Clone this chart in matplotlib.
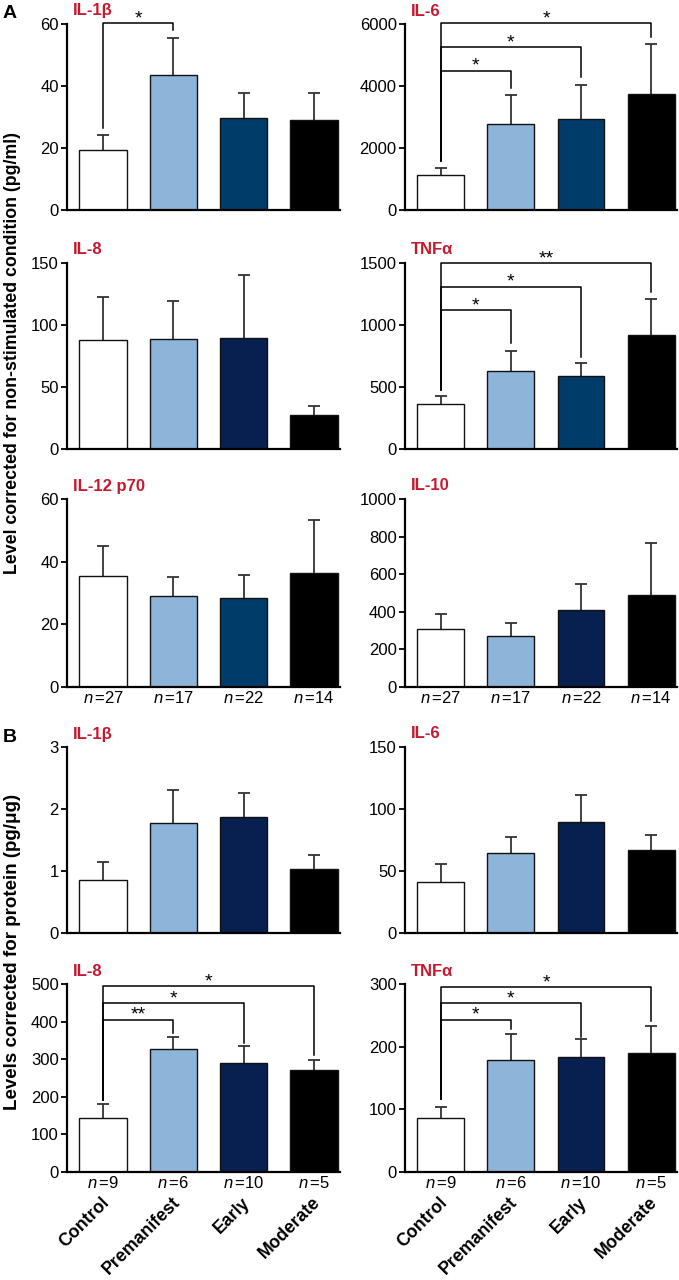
import matplotlib
matplotlib.use("Agg")
import matplotlib.pyplot as plt
import numpy as np

plt.rcParams['font.family'] = ['Liberation Sans', 'DejaVu Sans']
plt.rcParams['mathtext.fontset'] = 'custom'
plt.rcParams['mathtext.rm'] = 'Liberation Sans'
plt.rcParams['mathtext.it'] = 'Liberation Sans:italic'

# ---------------- data ----------------
groups = ['Control', 'Premanifest', 'Early', 'Moderate']
n_a = [27, 17, 22, 14]
n_b = [9, 6, 10, 5]

a_il1b_mean = [19.4, 43.5, 29.6, 29.0]
a_il1b_sem = [4.8, 12.1, 8.0, 8.6]
a_il6_mean = [1120, 2780, 2930, 3750]
a_il6_sem = [240, 920, 1100, 1600]
a_il8_mean = [88.3, 89.1, 89.9, 27.6]
a_il8_sem = [34.1, 30.0, 50.7, 7.0]
a_tnf_mean = [360, 633, 590, 921]
a_tnf_sem = [67, 154, 104, 288]
a_il12_mean = [35.4, 29.0, 28.4, 36.3]
a_il12_sem = [9.7, 6.2, 7.2, 16.9]
a_il10_mean = [309, 273, 412, 489]
a_il10_sem = [80, 70, 138, 279]

b_il1b_mean = [0.86, 1.78, 1.87, 1.04]
b_il1b_sem = [0.28, 0.52, 0.39, 0.22]
b_il6_mean = [41.3, 64.5, 89.2, 67.2]
b_il6_sem = [14.7, 12.9, 21.7, 12.1]
b_il8_mean = [144, 326, 290, 272]
b_il8_sem = [36, 34, 44, 26]
b_tnf_mean = [85.4, 178.8, 183.1, 189.5]
b_tnf_sem = [18.7, 41.7, 28.9, 42.7]

y_ticks = {
    'a_il1b': [0, 20, 40, 60], 'a_il6': [0, 2000, 4000, 6000],
    'a_il8': [0, 50, 100, 150], 'a_tnf': [0, 500, 1000, 1500],
    'a_il12': [0, 20, 40, 60], 'a_il10': [0, 200, 400, 600, 800, 1000],
    'b_il1b': [0, 1, 2, 3], 'b_il6': [0, 50, 100, 150],
    'b_il8': [0, 100, 200, 300, 400, 500], 'b_tnf': [0, 100, 200, 300],
}

# significance brackets: control-start height, then (target, top, end, label)
sig = {
    'a_il1b': (26.4, [(1, 60.2, 58.0, '*')]),
    'a_il6': (1570, [(1, 4485, 3920, '*'), (2, 5254, 4290, '*'), (3, 6022, 5574, '*')]),
    'a_tnf': (478, [(1, 1118, 851, '*'), (2, 1308, 739, '*'), (3, 1500, 1268, '**')]),
    'b_il8': (191, [(1, 405, 369, '**'), (2, 449, 344, '*'), (3, 494, 311, '*')]),
    'b_tnf': (115.8, [(1, 242.9, 228, '*'), (2, 269.6, 216, '*'), (3, 295.2, 240.2, '*')]),
}

# ---------------- styles ----------------
RED = '#c41a30'
WHITE = '#ffffff'
LIGHT = '#8db5d9'
DARK = '#003c69'
NAVY = '#082050'
BLACK = '#000000'

W, H = 679, 1280
fig = plt.figure(figsize=(W / 100, H / 100), dpi=100)

col_x = [(67, 340), (405, 677)]
row_y = [(24, 210), (263, 449), (499, 687), (747, 933), (984, 1172)]


def make_ax(row, col):
    x0, x1 = col_x[col]
    y0, y1 = row_y[row]
    return fig.add_axes([x0 / W, 1 - y1 / H, (x1 - x0) / W, (y1 - y0) / H])


panels = [
    (0, 0, 'IL-1\u03b2', 'a_il1b', a_il1b_mean, a_il1b_sem, DARK),
    (0, 1, 'IL-6', 'a_il6', a_il6_mean, a_il6_sem, DARK),
    (1, 0, 'IL-8', 'a_il8', a_il8_mean, a_il8_sem, NAVY),
    (1, 1, 'TNF\u03b1', 'a_tnf', a_tnf_mean, a_tnf_sem, DARK),
    (2, 0, 'IL-12 p70', 'a_il12', a_il12_mean, a_il12_sem, DARK),
    (2, 1, 'IL-10', 'a_il10', a_il10_mean, a_il10_sem, NAVY),
    (3, 0, 'IL-1\u03b2', 'b_il1b', b_il1b_mean, b_il1b_sem, NAVY),
    (3, 1, 'IL-6', 'b_il6', b_il6_mean, b_il6_sem, NAVY),
    (4, 0, 'IL-8', 'b_il8', b_il8_mean, b_il8_sem, NAVY),
    (4, 1, 'TNF\u03b1', 'b_tnf', b_tnf_mean, b_tnf_sem, NAVY),
]

x = np.arange(len(groups))
for row, col, title, key, mean, sem, early_col in panels:
    ax = make_ax(row, col)
    colors = [WHITE, LIGHT, early_col, BLACK]
    eb = ax.errorbar(x, mean, yerr=[np.zeros(len(sem)), sem], fmt='none',
                     ecolor='#333333', elinewidth=1.3, capsize=4.5,
                     capthick=1.3, zorder=1)
    eb[1][0].set_visible(False)  # hide lower caps
    ax.bar(x, mean, width=0.67, color=colors, edgecolor='#111111',
           linewidth=1.0, zorder=2)
    ticks = y_ticks[key]
    ax.set_ylim(0, ticks[-1])
    ax.set_yticks(ticks)
    ax.set_xlim(-0.512, 3.37)
    ax.set_xticks([])
    for s in ['top', 'right']:
        ax.spines[s].set_visible(False)
    for s in ['left', 'bottom']:
        ax.spines[s].set_linewidth(1.6)
    ax.tick_params(axis='y', length=4, width=1.3, labelsize=12, pad=2)
    ax.annotate(title, xy=(0, 1), xycoords='axes fraction',
                xytext=(6, 13), textcoords='offset pixels',
                ha='left', va='center', color=RED, fontsize=12,
                fontweight='bold')
    if key in sig:
        start, brs = sig[key]
        for tgt, top, end, lab in brs:
            ax.plot([0, 0, tgt, tgt], [start, top, top, end], color='black',
                    lw=1.1, clip_on=False, zorder=3)
            ax.annotate(lab, xy=(tgt / 2, top), xytext=(0, 0),
                        textcoords='offset points', ha='center',
                        va='baseline', fontsize=14, annotation_clip=False)
    if row == 2 or row == 4:
        ns = n_a if row == 2 else n_b
        for xi, nv in zip(x, ns):
            ax.annotate(r'$\it{n}\,$' + '=' + str(nv), xy=(xi, 0),
                        xycoords='data', xytext=(0, -11),
                        textcoords='offset pixels', ha='center', va='center',
                        fontsize=12, annotation_clip=False)
    if row == 4:
        for xi, g in zip(x, groups):
            ax.annotate(g, xy=(xi, 0), xycoords='data', xytext=(-2, -22),
                        textcoords='offset pixels', ha='right', va='top',
                        rotation=45, rotation_mode='anchor', fontsize=12.8,
                        fontweight='bold', annotation_clip=False)

fig.text(3 / W, 1 - 14 / H, 'A', fontsize=14, fontweight='bold',
         ha='left', va='center')
fig.text(3 / W, 1 - 738 / H, 'B', fontsize=14, fontweight='bold',
         ha='left', va='center')
fig.text(13 / W, 1 - 353 / H,
         'Level corrected for non-stimulated condition (pg/ml)',
         rotation=90, fontsize=12.8, fontweight='bold', ha='center',
         va='center')
fig.text(13 / W, 1 - 952 / H, 'Levels corrected for protein (pg/\u03bcg)',
         rotation=90, fontsize=13.5, fontweight='bold', ha='center',
         va='center')

fig.savefig('out.png', dpi=100)
